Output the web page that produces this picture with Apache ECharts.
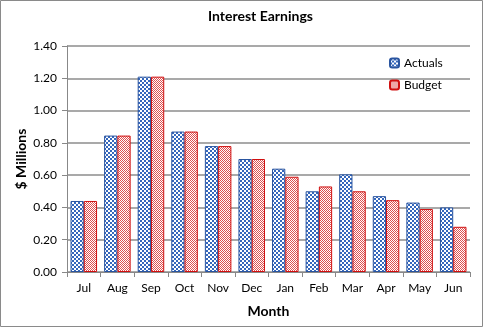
<!DOCTYPE html>
<html><head><meta charset="utf-8">
<script src="https://cdn.jsdelivr.net/npm/echarts@6/dist/echarts.min.js"></script>
<style>html,body{margin:0;padding:0;background:#fff}#c{width:483px;height:327px}</style>
</head><body><div id="c"></div>
<script>
const categories = ['Jul','Aug','Sep','Oct','Nov','Dec','Jan','Feb','Mar','Apr','May','Jun'];
const actuals = [0.44,0.845,1.21,0.87,0.78,0.70,0.64,0.50,0.605,0.47,0.43,0.40];
const budget  = [0.44,0.845,1.21,0.87,0.78,0.70,0.59,0.53,0.50,0.445,0.39,0.28];
const yTicks = [0,0.2,0.4,0.6,0.8,1.0,1.2,1.4];

function checker(){
  const c=document.createElement('canvas');c.width=4;c.height=4;
  const g=c.getContext('2d');g.fillStyle='#fff';g.fillRect(0,0,4,4);
  g.fillStyle='#3567BC';g.fillRect(0,0,2,2);g.fillRect(2,2,2,2);
  return c;
}
function zig(){
  const c=document.createElement('canvas');c.width=4;c.height=4;
  const g=c.getContext('2d');g.fillStyle='#fff';g.fillRect(0,0,4,4);
  g.fillStyle='#DE5050';
  const px=[[0,0],[1,1],[2,2],[3,1],[0,2],[1,3],[2,0],[3,3]];
  px.forEach(p=>g.fillRect(p[0],p[1],1,1));
  return c;
}
const font='Lato, "Liberation Sans", sans-serif';
const chart=echarts.init(document.getElementById('c'),null,{renderer:'canvas'});
chart.setOption({
  animation:false,
  title:{text:'Interest Earnings',left:203,top:4,textStyle:{fontFamily:font,fontWeight:'bold',fontSize:14,color:'#000'}},
  graphic:[{type:'rect',shape:{x:0.5,y:0.5,width:482,height:326},style:{fill:'none',stroke:'#8a8a8a',lineWidth:1},silent:true}],
  legend:{orient:'vertical',left:384,top:52,itemWidth:9,itemHeight:9,itemGap:10,
    textStyle:{fontFamily:font,fontSize:12,color:'#000'},
    data:['Actuals','Budget']},
  grid:{left:67,right:13,top:46,bottom:55},
  xAxis:{type:'category',data:categories,
    name:'Month',nameLocation:'middle',nameGap:32,nameMoveOverlap:false,
    nameTextStyle:{fontFamily:font,fontWeight:'bold',fontSize:14,color:'#000'},
    axisLine:{lineStyle:{color:'#888',width:1}},
    axisTick:{show:true,length:5,lineStyle:{color:'#888'}},
    axisLabel:{fontFamily:font,fontSize:12,color:'#000',margin:10}},
  yAxis:{type:'value',min:0,max:1.4,interval:0.2,
    name:'$ Millions',nameLocation:'middle',nameGap:39,nameMoveOverlap:false,
    nameTextStyle:{fontFamily:font,fontWeight:'bold',fontSize:14,color:'#000'},
    axisLine:{show:true,lineStyle:{color:'#888',width:1}},
    axisTick:{show:true,length:5,lineStyle:{color:'#888'}},
    splitLine:{lineStyle:{color:'#8c8c8c',width:1.5}},
    axisLabel:{fontFamily:font,fontSize:12,color:'#000',margin:10,formatter:v=>v.toFixed(2)}},
  series:[
    {name:'Actuals',type:'bar',data:actuals,barGap:'0%',barCategoryGap:'21%',
     itemStyle:{color:{image:checker(),repeat:'repeat'},borderColor:'#2A55A0',borderWidth:1}},
    {name:'Budget',type:'bar',data:budget,
     itemStyle:{color:{image:zig(),repeat:'repeat'},borderColor:'#D01010',borderWidth:1}}
  ]
});
</script></body></html>
